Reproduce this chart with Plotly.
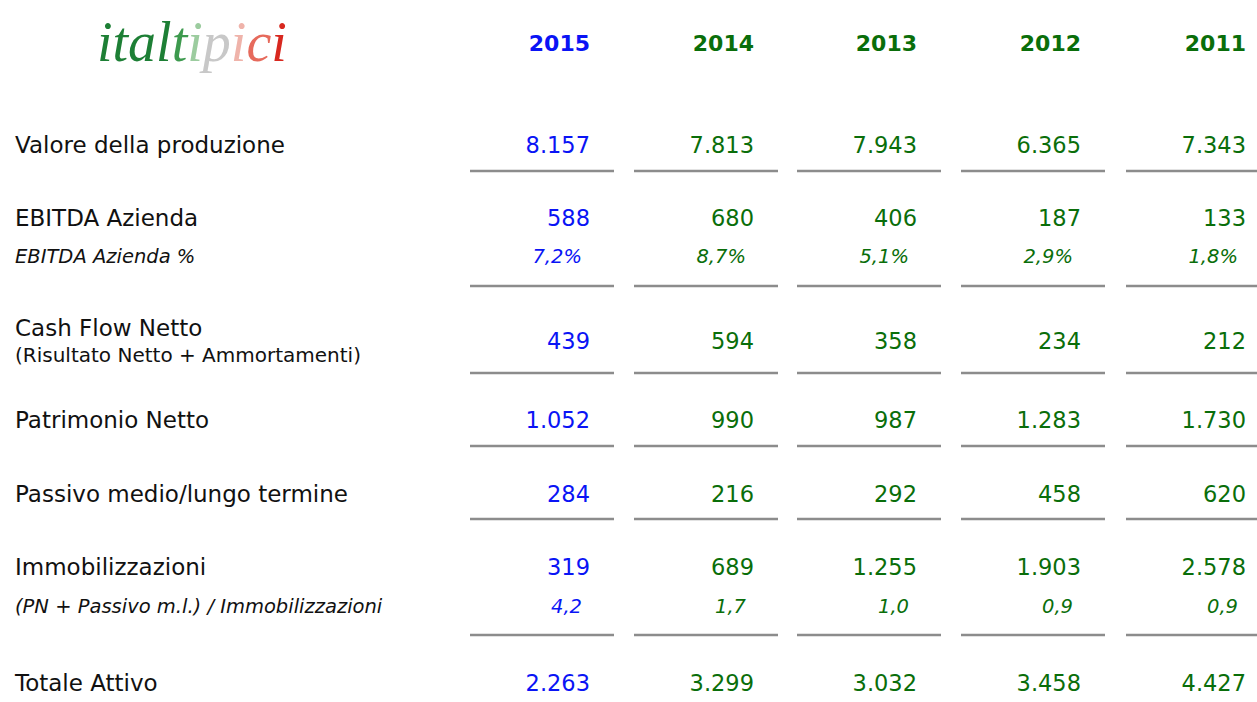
import plotly.graph_objects as go

# ---------------- data ----------------
years = ["2015", "2014", "2013", "2012", "2011"]
row_labels = ["Valore della produzione", "EBITDA Azienda", "Cash Flow Netto",
              "Patrimonio Netto", "Passivo medio/lungo termine",
              "Immobilizzazioni", "Totale Attivo"]
sub_labels = ["EBITDA Azienda %", "(PN + Passivo m.l.) / Immobilizzazioni"]
cash_flow_note = "(Risultato Netto + Ammortamenti)"

valore_produzione = [8157, 7813, 7943, 6365, 7343]
ebitda = [588, 680, 406, 187, 133]
ebitda_pct = [7.2, 8.7, 5.1, 2.9, 1.8]
cash_flow = [439, 594, 358, 234, 212]
patrimonio_netto = [1052, 990, 987, 1283, 1730]
passivo_ml = [284, 216, 292, 458, 620]
immobilizzazioni = [319, 689, 1255, 1903, 2578]
copertura = [4.2, 1.7, 1.0, 0.9, 0.9]
totale_attivo = [2263, 3299, 3032, 3458, 4427]

# ---------------- layout constants ----------------
W, H = 1257, 702
col_right = [590, 754, 917, 1081, 1246]
italic_shift = -8
rule_left, rule_right = -120, 24
label_x = 15
FONT = "DejaVu Sans"
BLUE = "#0a14f5"
GREEN = "#0a6e0a"
col_colors = [BLUE, GREEN, GREEN, GREEN, GREEN]

y_year = 45
y_main = [147, 220, 343, 422, 496, 569, 685]
y_label = [147, 220, 330, 422, 496, 569, 685]
y_cf_note = 357
y_italic = [258, 608]
y_rules = [171, 286, 373, 446, 519, 635]


def fmt_int(v):
    return f"{v:,}".replace(",", ".")


def fmt_pct(v):
    return f"{v:.1f}".replace(".", ",") + "%"


def fmt_dec(v):
    return f"{v:.1f}".replace(".", ",")


main_series = [valore_produzione, ebitda, cash_flow, patrimonio_netto,
               passivo_ml, immobilizzazioni, totale_attivo]

fig = go.Figure()

# year headers + values per column
for j in range(len(years)):
    c = col_colors[j]
    fig.add_trace(go.Scatter(
        x=[col_right[j]], y=[y_year], mode="text", text=[f"<b>{years[j]}</b>"],
        textposition="middle left",
        textfont=dict(family=FONT, size=22, color=c),
        hoverinfo="skip", showlegend=False))
    fig.add_trace(go.Scatter(
        x=[col_right[j]] * len(main_series), y=y_main, mode="text",
        text=[fmt_int(s[j]) for s in main_series],
        textposition="middle left",
        textfont=dict(family=FONT, size=22.5, color=c),
        hoverinfo="skip", showlegend=False))
    fig.add_trace(go.Scatter(
        x=[col_right[j] + italic_shift] * 2, y=y_italic, mode="text",
        text=[f"<i>{fmt_pct(ebitda_pct[j])}</i>", f"<i>{fmt_dec(copertura[j])}</i>"],
        textposition="middle left",
        textfont=dict(family=FONT, size=19.5, color=c),
        hoverinfo="skip", showlegend=False))

# row labels
fig.add_trace(go.Scatter(
    x=[label_x] * len(row_labels), y=y_label, mode="text", text=row_labels,
    textposition="middle right",
    textfont=dict(family=FONT, size=23, color="#111111"),
    hoverinfo="skip", showlegend=False))
fig.add_trace(go.Scatter(
    x=[label_x] * 2, y=y_italic, mode="text",
    text=[f"<i>{t}</i>" for t in sub_labels],
    textposition="middle right",
    textfont=dict(family=FONT, size=19.5, color="#111111"),
    hoverinfo="skip", showlegend=False))
fig.add_trace(go.Scatter(
    x=[label_x], y=[y_cf_note], mode="text", text=[cash_flow_note],
    textposition="middle right",
    textfont=dict(family=FONT, size=20, color="#111111"),
    hoverinfo="skip", showlegend=False))

# separator rules
for yr in y_rules:
    for xr in col_right:
        fig.add_shape(type="line", xref="x", yref="y",
                      x0=xr + rule_left, x1=xr + rule_right, y0=yr, y1=yr,
                      line=dict(color="#8c8c8c", width=2.5))

# logo
logo = ("<i><span style='color:#1d7f35'>ital</span>"
        "<span style='color:#3d9a4e'>t</span>"
        "<span style='color:#9ccc9f'>i</span>"
        "<span style='color:#c8c8c8'>p</span>"
        "<span style='color:#efb3aa'>i</span>"
        "<span style='color:#e66a5c'>c</span>"
        "<span style='color:#d8281f'>i</span></i>")
fig.add_annotation(x=192, y=42, xref="x", yref="y", text=logo, showarrow=False,
                   font=dict(family="Liberation Serif", size=56))

fig.update_xaxes(range=[0, W], visible=False, fixedrange=True)
fig.update_yaxes(range=[H, 0], visible=False, fixedrange=True)
fig.update_layout(width=W, height=H, margin=dict(l=0, r=0, t=0, b=0),
                  paper_bgcolor="white", plot_bgcolor="white")

fig.write_html("out.html", config={"displayModeBar": False},
               post_script="document.body.style.margin='0px';")
